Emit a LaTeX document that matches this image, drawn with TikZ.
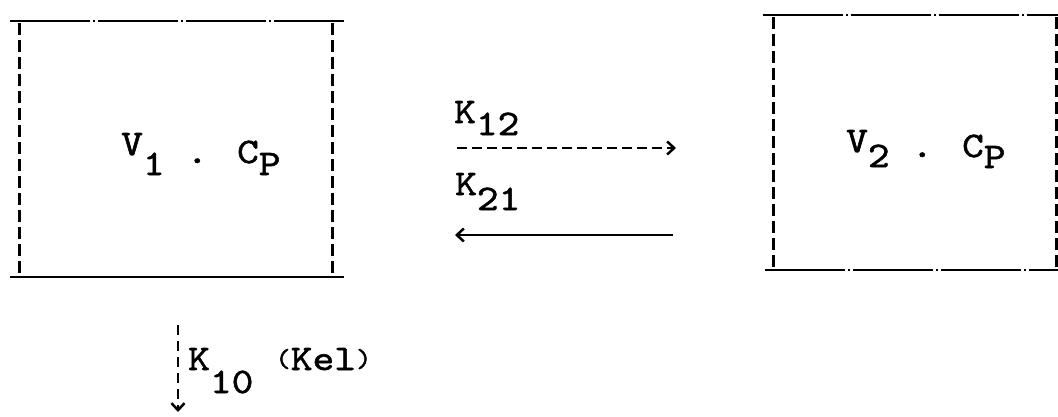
\documentclass[tikz,border=0pt]{standalone}
\usepackage{fontspec}
\newfontfamily\tw{lmmono10-regular.otf}[FakeStretch=1.15,FakeBold=1.5]
\usetikzlibrary{arrows.meta}
\newcommand\dn[2]{\raisebox{-#1pt}{#2}}
\begin{document}
\begin{tikzpicture}[x=1pt,y=-1pt,
  lbl/.style={inner sep=0pt,font=\tw\fontsize{36}{40}\selectfont},
  edge/.style={line width=2.5pt},
  vdash/.style={line width=3pt,dash pattern=on 12pt off 5pt},
  hdash/.style={line width=2.5pt,dash pattern=on 80pt off 3pt on 2pt off 3pt},
  flow/.style={line width=2.5pt,-{Straight Barb[length=7pt,width=13pt,line width=2.5pt]}}]
\useasboundingbox (0,0) rectangle (1058,416);
% box 1
\draw[hdash] (10,21) -- (344,21);
\draw[edge] (10,277) -- (344,277);
\draw[vdash] (19,23) -- (19,277);
\draw[vdash] (332,23) -- (332,277);
\node[lbl,anchor=base west] (c1) at (121,163) {\raisebox{8pt}{V}\dn{12}{1} . C\dn{12}{P}};
% box 2
\draw[hdash] (763,15) -- (1058,15);
\draw[hdash] (765,270) -- (1058,270);
\draw[vdash] (773,17) -- (773,270);
\draw[vdash] (1056,17) -- (1056,270);
\node[lbl,anchor=base west] (c2) at (846,157) {\raisebox{5pt}{V}\dn{10}{2} . C\dn{11}{P}};
% exchange arrows
\coordinate (a1) at (457,148);
\coordinate (a2) at (676,148);
\coordinate (b1) at (673,235);
\coordinate (b2) at (455,235);
\draw[flow,dash pattern=on 10pt off 5pt] (a1) -- (a2);
\draw[flow] (b1) -- (b2);
\node[lbl,anchor=base west] (k12) at (454,123) {K\dn{12}{12}};
\node[lbl,anchor=base west] (k21) at (455,195) {K\dn{15}{21}};
% elimination
\coordinate (d1) at (178,325);
\coordinate (d2) at (178,412);
\draw[flow,dash pattern=on 10pt off 6pt] (d1) -- (d2);
\node[lbl,anchor=base west] (k10) at (188,370) {K\dn{23}{10} \raisebox{3pt}{\fontsize{26}{30}\selectfont(}Kel\raisebox{3pt}{\fontsize{26}{30}\selectfont)}};
\end{tikzpicture}
\end{document}
